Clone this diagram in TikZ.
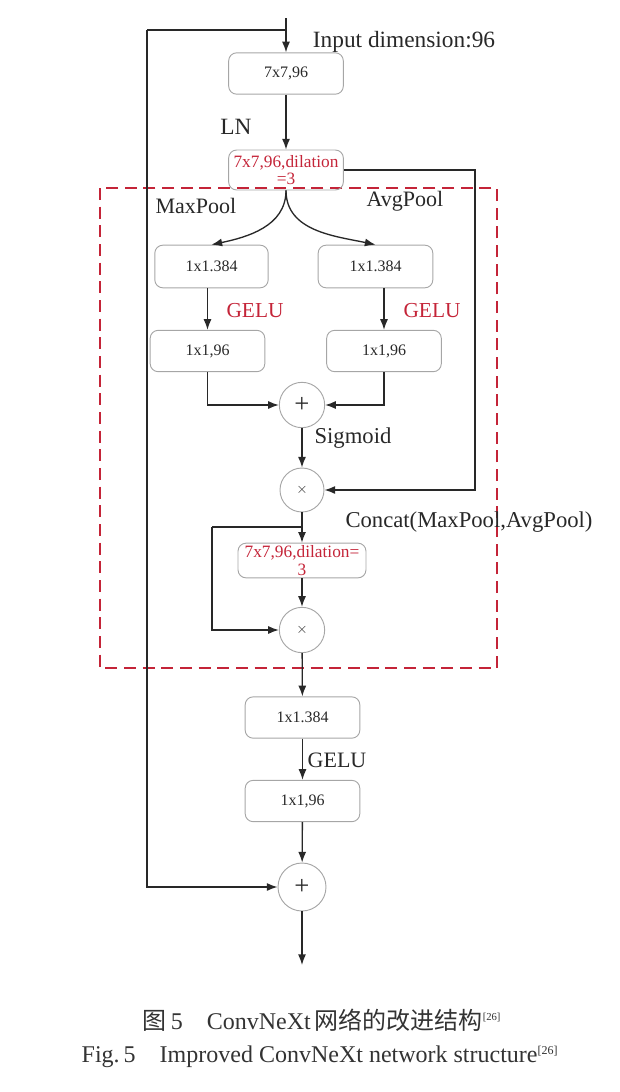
\documentclass[tikz,border=0pt]{standalone}
\usepackage{fontspec}
\setmainfont{Liberation Serif}
\newfontfamily\cjk{Noto Sans CJK SC}
\usetikzlibrary{arrows.meta}
\definecolor{dred}{RGB}{196,36,56}
\definecolor{ink}{RGB}{40,40,40}

\begin{document}
\begin{tikzpicture}[x=0.75pt,y=-0.75pt,
  every node/.style={font=\fontsize{16.5}{18}\selectfont, text=ink},
  blk/.style={draw=black!35, line width=0.7pt, rounded corners=6pt, inner sep=1pt,
    minimum width=86pt, minimum height=31pt, font=\fontsize{12}{13.5}\selectfont},
  redblk/.style={blk, text=dred, align=center, font=\fontsize{13}{13}\selectfont},
  op/.style={draw=black!35, line width=0.7pt, circle, minimum size=34pt, inner sep=0pt},
  arr/.style={draw=ink, line width=1pt, -{Latex[length=8pt,width=6pt]}},
  ln/.style={draw=ink, line width=1pt}
  ]
\useasboundingbox (0,0) rectangle (620,1092);

% dashed attention block
\draw[dred, line width=1.6pt, dash pattern=on 9pt off 5pt] (100,188) rectangle (497,668);

\node[blk] (b1) at (286,73.5) {7x7,96};
\node[redblk, minimum height=30pt] (b2) at (286,170) {7x7,96,dilation\\=3};
\node[blk, minimum width=85pt, minimum height=32pt] (l1) at (211.5,266.5) {1x1.384};
\node[blk, minimum height=32pt] (r1) at (375.5,266.5) {1x1.384};
\node[blk] (l2) at (207.5,351) {1x1,96};
\node[blk] (r2) at (384,351) {1x1,96};
\node[op] (p1) at (302,405) {\fontsize{20}{20}\selectfont +};
\node[op, minimum size=33pt] (m1) at (302,490) {\fontsize{11}{11}\selectfont $\times$};
\node[redblk, minimum width=96pt, minimum height=26pt] (b3) at (302,560.5) {7x7,96,dilation=\\3};
\node[op] (m2) at (302,630) {\fontsize{11}{11}\selectfont $\times$};
\node[blk] (b4) at (302.5,717.5) {1x1.384};
\node[blk] (b5) at (302.5,801) {1x1,96};
\node[op, minimum size=36pt] (p2) at (302,887) {\fontsize{20}{20}\selectfont +};

\coordinate (in) at (286,18);
\coordinate (split) at (286,30);
\coordinate (back) at (147,30);
\coordinate (cr) at (475,172);
\coordinate (sk) at (302,527);
\coordinate (skl) at (212,527);
\coordinate (out) at (302,965);

% main path
\draw[arr] (in) -- (b1);
\draw[ln] (split) -- (back);
\draw[arr] (back) |- (p2.west);
\draw[arr] (b1) -- (b2);
\draw[arr] (b2.east) -- (b2.east -| cr) |- (m1.east);
\draw[arr] (b2.south) to[out=-90,in=12] (l1.north);
\draw[arr] (b2.south) to[out=-90,in=168] (r1.north);
\draw[arr] (l2.north |- l1.south) -- (l2.north);
\draw[arr] (r2.north |- r1.south) -- (r2.north);
\draw[arr] (l2.south) |- (p1.west);
\draw[arr] (r2.south) |- (p1.east);
\draw[arr] (p1) -- (m1);
\draw[arr] (m1) -- (b3);
\draw[ln] (sk) -- (skl);
\draw[arr] (skl) |- (m2.west);
\draw[arr] (b3) -- (m2);
\draw[arr] (m2) -- (b4);
\draw[arr] (b4) -- (b5);
\draw[arr] (b5) -- (p2);
\draw[arr] (p2) -- (out);

% labels
\node[font=\fontsize{17.5}{19}\selectfont] (tin) at (404,42) {Input dimension:96};
\node[font=\fontsize{17.5}{19}\selectfont] (tln) at (236,127) {LN};
\node (tmax) at (196,206) {MaxPool};
\node (tavg) at (405,201) {AvgPool};
\node[text=dred, font=\fontsize{16}{18}\selectfont] (g1) at (255,311) {GELU};
\node[text=dred, font=\fontsize{16}{18}\selectfont] (g2) at (432,311) {GELU};
\node[font=\fontsize{17}{19}\selectfont] (tsig) at (353,438) {Sigmoid};
\node[font=\fontsize{17}{19}\selectfont] (tcat) at (469,522) {Concat(MaxPool,AvgPool)};
\node (g3) at (337,760) {GELU};

% caption
\node[font=\fontsize{18}{20}\selectfont, text=black!80] (cap1) at (322,1020)
  {{\cjk 图}\,5\quad ConvNeXt\,{\cjk 网络的改进结构}\textsuperscript{\fontsize{8}{8}\selectfont[26]}};
\node[font=\fontsize{18}{20}\selectfont, text=black!80] (cap2) at (320,1057)
  {Fig.\,5\quad Improved ConvNeXt network structure\textsuperscript{\fontsize{9}{9}\selectfont[26]}};
\end{tikzpicture}
\end{document}
